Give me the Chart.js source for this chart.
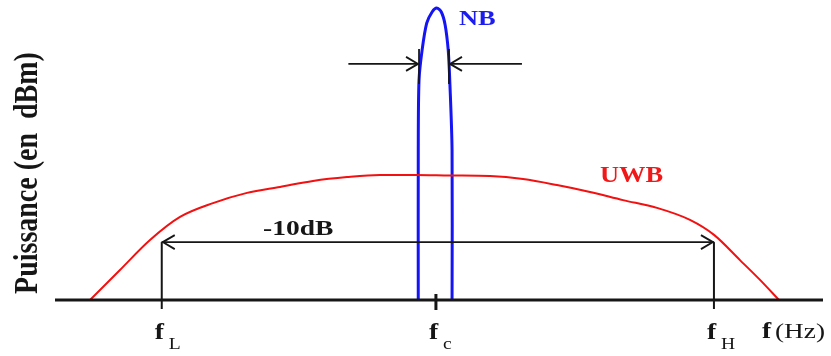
<!DOCTYPE html>
<html>
<head>
<meta charset="utf-8">
<script src="https://cdn.jsdelivr.net/npm/chart.js@4.4.1/dist/chart.umd.min.js"></script>
<style>
    html, body { margin: 0; padding: 0; background: #fff; }
    #wrap { width: 831px; height: 356px; }
</style>
</head>
<body>
<div id="wrap"><canvas id="spectrum"></canvas></div>
<script>
// frequency axis runs 0..100 (arbitrary units), power 0..100 (relative)
var uwbFreq = [4.56, 8.46, 12.37, 16.28, 20.57, 25.0, 29.3, 33.59, 38.02, 42.32, 46.88, 51.43, 56.64, 60.94, 65.36, 69.66, 73.96, 78.39, 82.68, 85.81, 89.19, 91.8, 94.27];
var uwbPower = [0, 10, 20, 27.7, 32.3, 35.7, 37.7, 39.7, 41, 41.7, 41.7, 41.5, 41.3, 40.3, 38.3, 36, 33.3, 30.7, 26.7, 21.7, 13.3, 6.7, 0];

var nbFreq = [47.3, 47.3, 47.4, 47.8, 48.4, 49.1, 49.7, 50.3, 50.8, 51.2, 51.4, 51.7, 51.7];
var nbPower = [0, 50, 73.3, 83.3, 92.3, 96, 97.3, 96, 91.7, 83.3, 73.3, 50, 0];

// marker frequencies and levels
var fL = 13.9, fc = 49.6, fH = 85.8;
var level10dB = 19.3;
var nbWidthLevel = 78.7;
var nbEdges = [47.4, 51.3];
var nbArrowEnds = [38.2, 60.8];

var tickLabels = [
    { f: fL, main: 'f', sub: 'L' },
    { f: fc, main: 'f', sub: 'c' },
    { f: fH, main: 'f', sub: 'H' }
];

function toPoints(xs, ys) {
    return xs.map(function (x, i) { return { x: x, y: ys[i] }; });
}

var serif = '"Liberation Serif", "Times New Roman", serif';
var ink = '#161616';

// text helper, the picture is a bit stretched horizontally
function txt(ctx, s, x, y, font, color, sx) {
    ctx.save();
    ctx.translate(x, y);
    ctx.scale(sx || 1.15, 1);
    ctx.font = font;
    ctx.fillStyle = color;
    ctx.textAlign = 'left';
    ctx.textBaseline = 'alphabetic';
    ctx.fillText(s, 0, 0);
    ctx.restore();
}

function chevron(ctx, x, y, dir) {
    ctx.beginPath();
    ctx.moveTo(x - dir * 12, y - 7);
    ctx.lineTo(x, y);
    ctx.lineTo(x - dir * 12, y + 7);
    ctx.stroke();
}

var annotations = {
    id: 'annotations',
    afterDatasetsDraw: function (chart) {
        var ctx = chart.ctx;
        var xs = chart.scales.x, ys = chart.scales.y;
        var X = function (v) { return xs.getPixelForValue(v); };
        var Y = function (v) { return ys.getPixelForValue(v); };
        var base = Y(0);

        ctx.save();
        ctx.strokeStyle = ink;
        ctx.lineCap = 'butt';

        // frequency axis
        ctx.lineWidth = 3;
        ctx.beginPath();
        ctx.moveTo(xs.left, base);
        ctx.lineTo(xs.right, base);
        ctx.stroke();

        // fc tick
        ctx.beginPath();
        ctx.moveTo(X(fc), base - 6);
        ctx.lineTo(X(fc), base + 10);
        ctx.stroke();

        // fL / fH verticals up to -10dB
        ctx.lineWidth = 2;
        [fL, fH].forEach(function (f) {
            ctx.beginPath();
            ctx.moveTo(X(f), Y(level10dB));
            ctx.lineTo(X(f), base + 9);
            ctx.stroke();
        });

        // -10dB double arrow
        ctx.lineWidth = 1.8;
        ctx.beginPath();
        ctx.moveTo(X(fL), Y(level10dB));
        ctx.lineTo(X(fH), Y(level10dB));
        ctx.stroke();
        chevron(ctx, X(fL) + 1, Y(level10dB), -1);
        chevron(ctx, X(fH) - 1, Y(level10dB), 1);

        // NB width marker
        var wy = Y(nbWidthLevel);
        ctx.lineWidth = 1.8;
        nbEdges.forEach(function (f) {
            ctx.beginPath();
            ctx.moveTo(X(f), wy - 15);
            ctx.lineTo(X(f), wy + 20);
            ctx.stroke();
        });
        ctx.beginPath();
        ctx.moveTo(X(nbArrowEnds[0]), wy);
        ctx.lineTo(X(nbEdges[0]) - 1, wy);
        ctx.moveTo(X(nbArrowEnds[1]), wy);
        ctx.lineTo(X(nbEdges[1]) + 1, wy);
        ctx.stroke();
        chevron(ctx, X(nbEdges[0]) - 1, wy, 1);
        chevron(ctx, X(nbEdges[1]) + 1, wy, -1);
        ctx.restore();

        // labels
        txt(ctx, 'NB', 459, 25, 'bold 22px ' + serif, '#1c1cf0', 1.2);
        txt(ctx, 'UWB', 600, 182, 'bold 23px ' + serif, '#f01818');
        txt(ctx, '-10dB', 263, 235, 'bold 22px ' + serif, ink, 1.25);

        tickLabels.forEach(function (t) {
            var px = X(t.f);
            txt(ctx, t.main, px - 7, 339, 'bold 23px ' + serif, ink, 1.2);
            txt(ctx, t.sub, px + 7, 349, '17px ' + serif, ink, 1.15);
        });
        txt(ctx, 'f', 762, 338, 'bold 23px ' + serif, ink, 1.2);
        txt(ctx, '(Hz)', 775, 338, '21px ' + serif, ink, 1.3);

        // power axis title
        ctx.save();
        ctx.translate(37, 173);
        ctx.scale(1.2, 1);
        ctx.rotate(-Math.PI / 2);
        ctx.font = 'bold 28px ' + serif;
        ctx.fillStyle = ink;
        ctx.textAlign = 'center';
        ctx.fillText('Puissance (en  dBm)', 0, 0);
        ctx.restore();
    }
};

var chart = new Chart(document.getElementById('spectrum'), {
    type: 'scatter',
    data: {
        datasets: [
            {
                label: 'UWB',
                data: toPoints(uwbFreq, uwbPower),
                showLine: true,
                borderColor: '#f21010',
                borderWidth: 2,
                pointRadius: 0,
                cubicInterpolationMode: 'monotone',
                fill: false
            },
            {
                label: 'NB',
                data: toPoints(nbFreq, nbPower),
                showLine: true,
                borderColor: '#1414f5',
                borderWidth: 3,
                pointRadius: 0,
                tension: 0.3,
                fill: false
            }
        ]
    },
    options: {
        responsive: true,
        maintainAspectRatio: false,
        animation: false,
        layout: { padding: { left: 55, right: 8, top: 0, bottom: 56 } },
        scales: {
            x: { type: 'linear', min: 0, max: 100, display: false },
            y: { type: 'linear', min: 0, max: 100, display: false }
        },
        plugins: {
            legend: { display: false },
            tooltip: { enabled: false }
        }
    },
    plugins: [annotations]
});
</script>
</body>
</html>
